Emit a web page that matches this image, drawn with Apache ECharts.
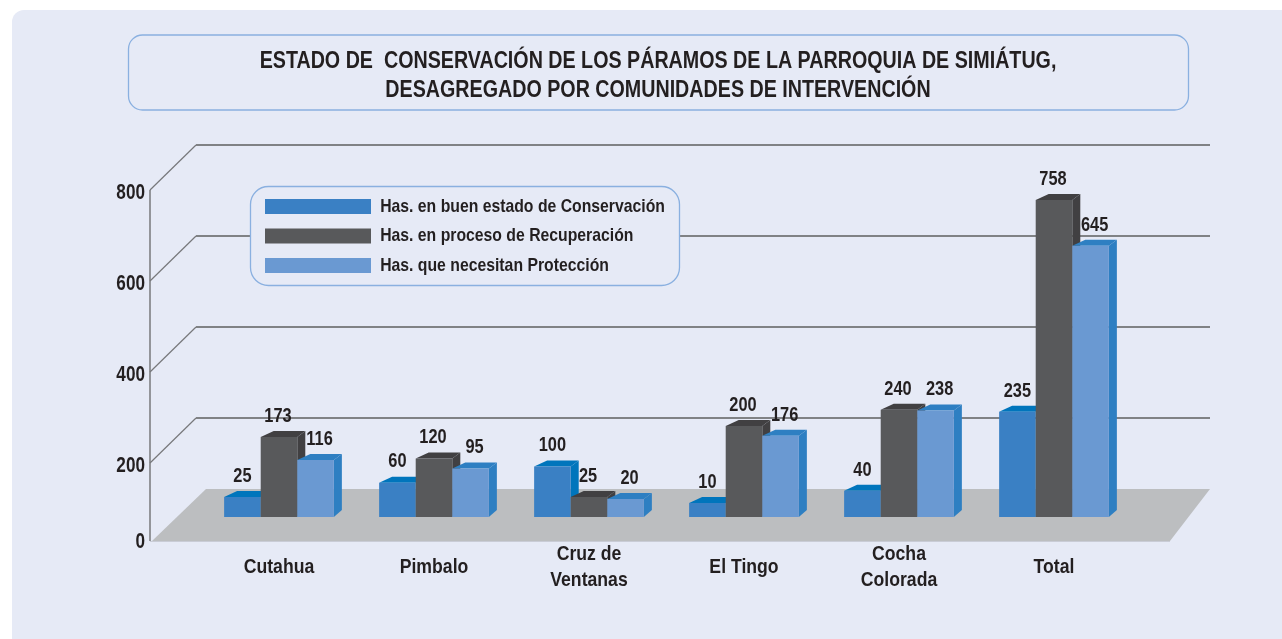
<!DOCTYPE html>
<html><head><meta charset="utf-8">
<style>html,body{margin:0;padding:0;background:#fff}#c{width:1282px;height:639px}</style>
<script src="https://cdn.jsdelivr.net/npm/echarts@6/dist/echarts.min.js"></script>
</head><body><div id="c"></div>
<script>
const categories = ['Cutahua','Pimbalo','Cruz de\nVentanas','El Tingo','Cocha\nColorada','Total'];
const buenEstado = [25,60,100,10,40,235];
const recuperacion = [173,120,25,200,240,758];
const proteccion = [116,95,20,176,238,645];
const wallTicks = [200,400,600,800];
const titleLines = 'ESTADO DE  CONSERVACIÓN DE LOS PÁRAMOS DE LA PARROQUIA DE SIMIÁTUG,\nDESAGREGADO POR COMUNIDADES DE INTERVENCIÓN';
const seriesNames = ['Has. en buen estado de Conservación','Has. en proceso de Recuperación','Has. que necesitan Protección'];

const FONT = '"Liberation Sans",sans-serif';
const INK = '#231f20';
const styles = [
  {front:'#3a80c4', top:'#0075bc', side:'#0075bc', dx:0},
  {front:'#58595b', top:'#414042', side:'#414042', dx:-1},
  {front:'#6a99d2', top:'#2e7fc2', side:'#2e7fc2', dx:4}
];

function barSeries(i, values){
  const st = styles[i];
  return {
    type:'custom', name:seriesNames[i], xAxisIndex:0, yAxisIndex:0, z:5+i, clip:false,
    itemStyle:{color:st.front},
    encode:{x:0,y:1},
    data:values.map((v,k)=>[k,v]),
    renderItem(params, api){
      const k = api.value(0), v = api.value(1);
      const p = api.coord([k,v]), base = api.coord([k,0])[1]+10;
      const w = api.size([1,0])[0]*0.236;
      const x0 = p[0]+(i-1.5)*w, x1 = x0+w, y = p[1];
      return {type:'group',children:[
        {type:'polygon',shape:{points:[[x1,y],[x1+8,y-6],[x1+8,base-7],[x1,base]]},style:{fill:st.side}},
        {type:'polygon',shape:{points:[[x0,y],[x0+13,y-6],[x1+8,y-6],[x1,y]]},style:{fill:st.top}},
        {type:'rect',shape:{x:x0,y:y,width:w,height:base-y},style:{fill:st.front}},
        {type:'text',x:(x0+x1)/2+st.dx,y:y-21,style:{text:String(v),fill:INK,font:'bold 21px '+FONT,align:'center',verticalAlign:'middle'},z2:50}
      ]};
    }
  };
}

const wallSeries = {
  type:'custom', xAxisIndex:1, yAxisIndex:1, z:1, clip:false, silent:true,
  encode:{x:0,y:1},
  data:wallTicks.map(v=>[0,v]),
  renderItem(params, api){
    const p = api.coord([0,api.value(1)]);
    const ln = (a,b,c,d,col,lw)=>({type:'line',shape:{x1:a,y1:b,x2:c,y2:d},style:{stroke:col,lineWidth:lw}});
    return {type:'group',children:[
      ln(p[0],p[1],p[0]+46,p[1]-45,'#77787b',1.2),
      ln(p[0]+46,p[1]-45,1210,p[1]-45,'#808285',2)
    ]};
  }
};

const option = {
  backgroundColor:'#ffffff',
  animation:false,
  title:{text:titleLines,left:653,top:42,textAlign:'center',
    textStyle:{fontFamily:FONT,fontWeight:'bold',fontSize:24,lineHeight:29,color:INK}},
  legend:{
    orient:'vertical',left:265,top:197,z:4,
    padding:0,itemGap:10.5,itemWidth:106,itemHeight:15,
    icon:'rect',selectedMode:false,
    textStyle:{fontFamily:FONT,fontWeight:'bold',fontSize:19,lineHeight:19,color:INK,padding:[0,0,0,5]},
    data:seriesNames
  },
  grid:[
    {left:201.5,width:930,top:183,height:324},
    {left:150,width:1060,top:190,height:364}
  ],
  xAxis:[
    {type:'category',gridIndex:0,data:categories,
      axisLine:{show:false},axisTick:{show:false},splitLine:{show:false},
      axisLabel:{margin:60,verticalAlign:'middle',fontFamily:FONT,fontWeight:'bold',fontSize:21,lineHeight:26,color:INK}},
    {type:'value',gridIndex:1,min:0,max:1,show:false}
  ],
  yAxis:[
    {type:'value',gridIndex:0,min:0,max:800,show:false},
    {type:'value',gridIndex:1,min:0,max:800,interval:200,
      axisLine:{show:false},axisTick:{show:false},splitLine:{show:false},
      axisLabel:{margin:5,fontFamily:FONT,fontWeight:'bold',fontSize:22,color:INK,
        formatter:v=>v===0?'{z|0}':'{n|'+v+'}',
        rich:{
          z:{fontFamily:FONT,fontWeight:'bold',fontSize:22,color:INK,padding:[0,0,24,0]},
          n:{fontFamily:FONT,fontWeight:'bold',fontSize:22,color:INK,padding:[6,0,0,0]}
        }}}
  ],
  graphic:{elements:[
    {type:'rect',z:-10,silent:true,shape:{x:12,y:10,width:1290,height:660,r:12},style:{fill:'#e6eaf6'}},
    {type:'polygon',z:0,silent:true,shape:{points:[[206,489],[1210,489],[1170,541],[152,541]]},style:{fill:'#bcbec0'}},
    {type:'line',z:0,silent:true,shape:{x1:150,y1:190,x2:150,y2:541},style:{stroke:'#77787b',lineWidth:1.5}},
    {type:'line',z:0,silent:true,shape:{x1:150,y1:541.5,x2:1170,y2:541.5},style:{stroke:'#c9ccd6',lineWidth:1}},
    {type:'rect',z:-5,silent:true,shape:{x:128.5,y:35,width:1060,height:75,r:14},style:{fill:'#e6eaf6',stroke:'#8ab0e0',lineWidth:1.3}},
    {type:'rect',z:3,silent:true,shape:{x:250.5,y:186.5,width:429,height:99,r:18},style:{fill:'#e6eaf6',stroke:'#8ab0e0',lineWidth:1.3}}
  ]},
  series:[wallSeries,barSeries(0,buenEstado),barSeries(1,recuperacion),barSeries(2,proteccion)]
};
const chart = echarts.init(document.getElementById('c'));
chart.setOption(option);

// No condensed face is installed: narrow every text horizontally about its anchor.
function condense(){
  const zr = chart.getZr();
  const seen = new Set();
  zr.storage.getDisplayList(true).forEach(el=>{
    const t = el.parent;
    if(!t || seen.has(t) || !t.style || typeof t.style.text!=='string') return;
    seen.add(t);
  });
  seen.forEach(t=>{
    const raw = t.style.text.replace(/\{\w+\||\}/g,'');
    t.originX = t.style.x || 0;
    t.scaleX = /^\d+$/.test(raw) ? 0.78 : (raw.length>60 ? 0.82 : (raw.startsWith('Has.') ? 0.83 : 0.84));
    t.markRedraw();
  });
  zr.refreshImmediately();
}
condense();
</script></body></html>
